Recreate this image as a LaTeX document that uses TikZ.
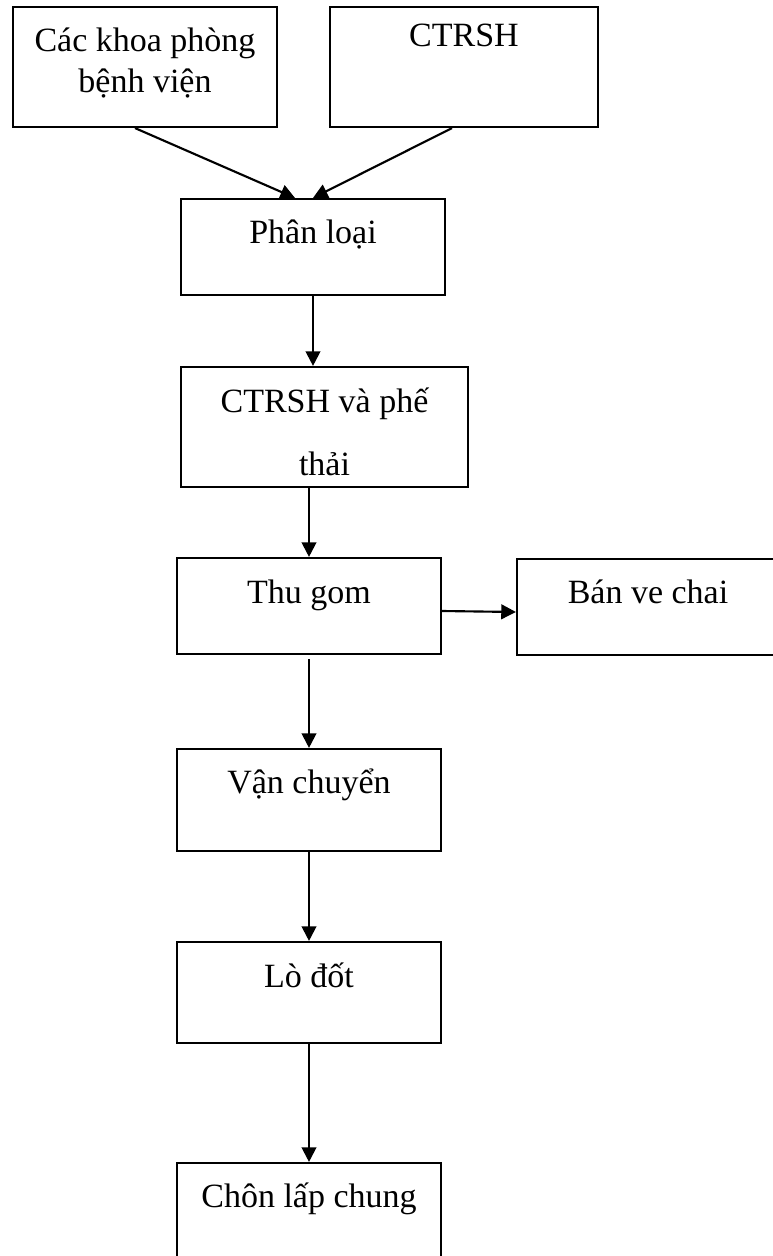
\documentclass[tikz,border=0pt]{standalone}
\usepackage{fontspec}
\setmainfont{Liberation Serif}
\usepackage{tikz}
\usetikzlibrary{arrows.meta}

\begin{document}
\begin{tikzpicture}[x=0.75pt,y=-0.75pt,
  box/.style={draw,line width=1.6pt,inner xsep=0pt,inner ysep=0pt,minimum width=198pt,
    align=center,font=\fontsize{25.5pt}{30.75pt}\selectfont},
  arr/.style={line width=1.6pt,-{Triangle[length=11pt,width=11pt]}}]
\useasboundingbox (0,0) rectangle (772,1256);
\node[box,text height=64.5pt,text depth=25.5pt] (khoa) at (145,67) {Các khoa phòng\\bệnh viện};
\node[box,minimum width=201pt,text height=30pt,text depth=60pt] (ctrsh) at (464,67) {CTRSH};
\node[box,text height=33pt,text depth=39pt] (phanloai) at (313,247) {Phân loại};
\node[box,minimum width=215.25pt,text height=81pt,text depth=9pt] (phethai) at (324.5,427) {CTRSH và phế\\[16.5pt]thải};
\node[box,text height=33.75pt,text depth=38.25pt] (thugom) at (309,606) {Thu gom};
\node[box,minimum width=196.5pt,text height=33pt,text depth=39pt] (vechai) at (648,607) {Bán ve chai};
\node[box,text height=33pt,text depth=43.5pt] (vanchuyen) at (309,800) {Vận chuyển};
\node[box,text height=33.75pt,text depth=42pt] (lodot) at (309,992.5) {Lò đốt};
\node[box,text height=33pt,text depth=42pt] (chonlap) at (309,1213) {Chôn lấp chung};
\draw[arr] ([xshift=-7.5pt]khoa.south) -- ([xshift=-13.5pt]phanloai.north);
\draw[arr] ([xshift=-9pt]ctrsh.south) -- (phanloai.north);
\draw[arr] (phanloai.south) -- (phanloai.south |- phethai.north);
\draw[arr] (thugom.north |- phethai.south) -- (thugom.north);
\draw[arr] ([yshift=-3.75pt]thugom.east) -- ([yshift=-3.75pt]vechai.west);
\draw[arr] ([yshift=-3pt]thugom.south) -- (vanchuyen.north);
\draw[arr] (vanchuyen.south) -- (lodot.north);
\draw[arr] (lodot.south) -- (chonlap.north);
\end{tikzpicture}
\end{document}
